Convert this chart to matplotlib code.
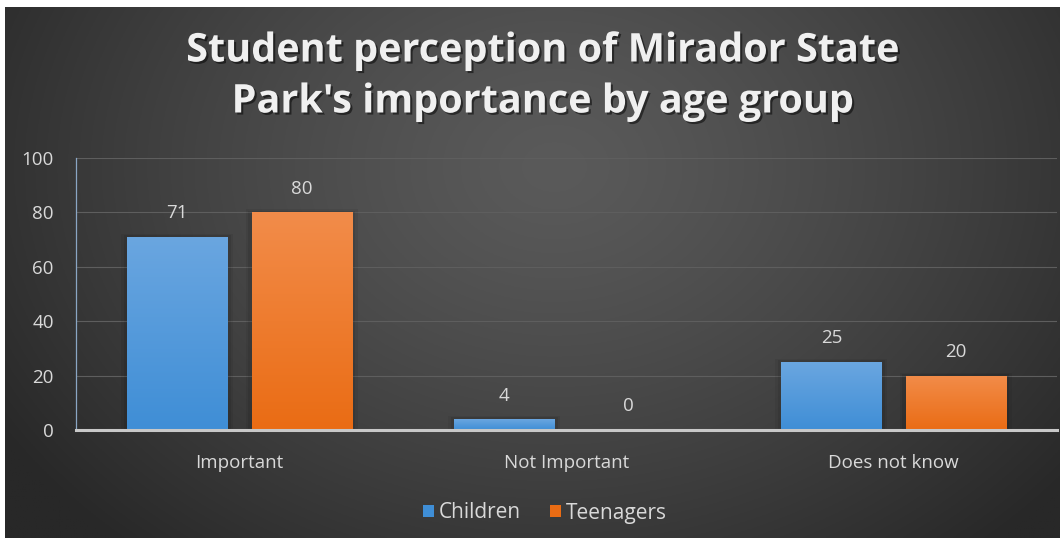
import numpy as np
import matplotlib
matplotlib.use("Agg")
import matplotlib.pyplot as plt
from matplotlib import patheffects as pe
from matplotlib.patches import Rectangle

categories = ["Important", "Not Important", "Does not know"]
series_names = ["Children", "Teenagers"]
children = [71, 4, 25]
teenagers = [80, 0, 20]
yticks = [0, 20, 40, 60, 80, 100]
title_lines = ["Student perception of Mirador State", "Park's importance by age group"]

FONT = "Open Sans"
TXT = "#d9d9d9"
W, H = 1063, 543
fig = plt.figure(figsize=(W / 100, H / 100), dpi=100, facecolor="white")

# background with radial gradient
bg = fig.add_axes([5 / W, 5 / H, 1055 / W, 531 / H])
bg.set_axis_off()
ny, nx = 300, 600
yy, xx = np.mgrid[0:ny, 0:nx]
cx, cy = nx * 0.52, ny * 0.30
r = np.sqrt(((xx - cx) / (nx * 0.62)) ** 2 + ((yy - cy) / (ny * 0.95)) ** 2)
r = np.clip(r, 0, 1)
light, dark = np.array([0x5a, 0x5a, 0x5a]) / 255, np.array([0x28, 0x28, 0x28]) / 255
img = light[None, None, :] * (1 - r[..., None] ** 1.3) + dark[None, None, :] * (r[..., None] ** 1.3)
bg.imshow(img, extent=[0, 1, 0, 1], aspect="auto", origin="upper")
bg.set_xlim(0, 1)
bg.set_ylim(0, 1)

ax = fig.add_axes([76 / W, 113 / H, 981 / W, 272 / H])
ax.patch.set_alpha(0)
ax.set_xlim(-0.5, 2.5)
ax.set_ylim(0, 100)

x = np.arange(len(categories))
bw = 0.306
off = 0.19

def grad_bars(xs, vals, top, bottom, name):
    t = np.array(top) / 255
    b = np.array(bottom) / 255
    bars = ax.bar(xs, vals, width=bw, color=tuple(b), label=name, zorder=3)
    g = np.linspace(0, 1, 100)[:, None]
    cimg = t[None, None, :] * (1 - g[..., None]) + b[None, None, :] * g[..., None]
    for rect in bars:
        hgt = rect.get_height()
        if hgt <= 0:
            continue
        x0 = rect.get_x()
        for k, a in ((0.018, 0.06), (0.010, 0.08)):
            sh = Rectangle((x0 - k, 0), rect.get_width() + 2 * k, hgt + k * 60,
                           facecolor="black", alpha=a, zorder=2, lw=0)
            ax.add_patch(sh)
        im = ax.imshow(cimg, extent=[x0, x0 + rect.get_width(), 0, hgt],
                       aspect="auto", origin="upper", zorder=4)
        im.set_clip_path(rect)
    return bars

b1 = grad_bars(x - off, children, (0x6a, 0xa6, 0xe0), (0x3f, 0x8e, 0xd6), series_names[0])
b2 = grad_bars(x + off, teenagers, (0xf2, 0x8c, 0x4a), (0xea, 0x6c, 0x14), series_names[1])
ax.set_aspect("auto")
ax.set_xlim(-0.5, 2.5)
ax.set_ylim(0, 100)

for xs, vals in ((x - off, children), (x + off, teenagers)):
    for xi, v in zip(xs, vals):
        ax.annotate(str(v), (xi, v), xytext=(0, 17), textcoords="offset points",
                    ha="center", va="center", color=TXT, fontsize=13.5, family=FONT, zorder=5)

ax.set_yticks(yticks)
ax.set_yticklabels([str(t) for t in yticks], family=FONT, fontsize=13.5, color=TXT)
ax.set_xticks(x)
ax.set_xticklabels(categories, family=FONT, fontsize=13.5, color=TXT)
ax.tick_params(axis="both", length=0)
ax.tick_params(axis="y", pad=16)
ax.tick_params(axis="x", pad=17)
ax.grid(axis="y", color="#5e5e5e", lw=0.8, zorder=1)
ax.set_axisbelow(True)
for s in ("top", "right"):
    ax.spines[s].set_visible(False)
ax.spines["bottom"].set_color("#c8c8c8")
ax.spines["bottom"].set_linewidth(2.2)
ax.spines["bottom"].set_zorder(6)
ax.spines["left"].set_color("#8aa6c4")
ax.spines["left"].set_linewidth(0.9)

leg = fig.legend(handles=[b1, b2], labels=series_names, loc="center",
                 bbox_to_anchor=(545 / W, 1 - 513 / H), ncol=2, frameon=False,
                 prop={"family": FONT, "size": 15}, labelcolor=TXT,
                 handlelength=0.5, handleheight=0.5, handletextpad=0.25, columnspacing=1.4)

for i, (line, yc) in enumerate(zip(title_lines, (51, 102))):
    fig.text(543 / W, 1 - yc / H, line, ha="center", va="center", color="#f0f0f0",
             fontsize=28.5, fontweight="bold", family=FONT,
             path_effects=[pe.withSimplePatchShadow(offset=(1.5, -1.5), shadow_rgbFace="black", alpha=0.5)])

fig.savefig("out.png", dpi=100, facecolor="white")
